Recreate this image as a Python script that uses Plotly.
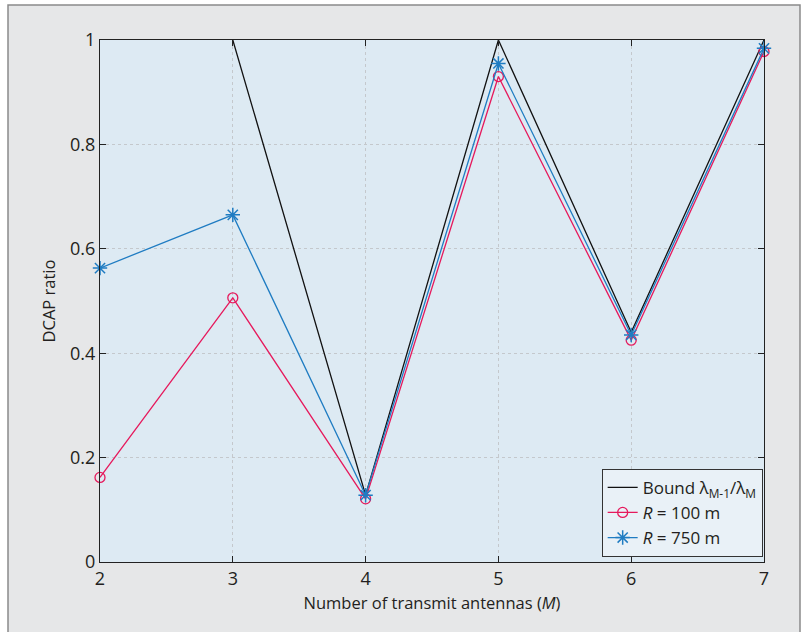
import plotly.graph_objects as go

# Data: DCAP ratio versus number of transmit antennas
antennas = [2, 3, 4, 5, 6, 7]
bound_ratio = [None, 1.0, 0.128, 1.0, 0.44, 1.0]
ratio_r100 = [0.162, 0.506, 0.121, 0.930, 0.425, 0.978]
ratio_r750 = [0.563, 0.665, 0.128, 0.955, 0.435, 0.984]

x_ticks = [2, 3, 4, 5, 6, 7]
y_ticks = [0, 0.2, 0.4, 0.6, 0.8, 1.0]
y_tick_text = ["0", "0.2", "0.4", "0.6", "0.8", "1"]

FONT = "Open Sans"
TXT = "#231f20"
RED = "#e6195c"
BLUE = "#1f7cc2"

W, H = 808, 632
ML, MR, MT, MB = 100, 44, 40, 70
pw, ph = W - ML - MR, H - MT - MB


def px_x(p):
    return (p - ML) / pw


def px_y(p):
    return (H - MB - p) / ph


fig = go.Figure()

fig.add_trace(go.Scatter(
    x=antennas, y=bound_ratio, mode="lines",
    line=dict(color="#111111", width=1.3),
    name="Bound λ<sub>M-1</sub>/λ<sub>M</sub>",
    connectgaps=False,
))
fig.add_trace(go.Scatter(
    x=antennas, y=ratio_r100, mode="lines+markers",
    line=dict(color=RED, width=1.3),
    marker=dict(symbol="circle-open", size=10, color=RED, line=dict(width=1.3)),
    name="<i>R</i> = 100 m",
    cliponaxis=False,
))
fig.add_trace(go.Scatter(
    x=antennas, y=ratio_r750, mode="lines+markers",
    line=dict(color=BLUE, width=1.3),
    marker=dict(symbol="asterisk-open", size=12, color=BLUE, line=dict(width=1.5, color=BLUE)),
    name="<i>R</i> = 750 m",
    cliponaxis=False,
))

shapes = [
    # outer grey panel
    dict(type="rect", xref="paper", yref="paper", layer="below",
         x0=px_x(8), x1=px_x(800), y0=px_y(645), y1=px_y(5),
         fillcolor="#e6e7e8", line=dict(color="#8a8a8a", width=1.5)),
    # plot area
    dict(type="rect", xref="paper", yref="paper", layer="below",
         x0=0, x1=1, y0=0, y1=1,
         fillcolor="#ddeaf3", line=dict(width=0)),
]

fig.update_layout(
    width=W, height=H,
    margin=dict(l=ML, r=MR, t=MT, b=MB),
    paper_bgcolor="white",
    plot_bgcolor="rgba(0,0,0,0)",
    shapes=shapes,
    font=dict(family=FONT, size=16, color=TXT),
    showlegend=True,
    legend=dict(
        x=0.998, y=0.01, xanchor="right", yanchor="bottom",
        bgcolor="#e9f1f7", bordercolor="#333333", borderwidth=1,
        font=dict(family=FONT, size=17, color=TXT),
        tracegroupgap=0, itemwidth=30,
    ),
)

fig.update_xaxes(
    range=[2, 7], tickvals=x_ticks, ticktext=[str(v) for v in x_ticks],
    showline=True, linecolor="#222222", linewidth=1.2, mirror="ticks",
    ticks="inside", ticklen=6, tickcolor="#222222",
    showgrid=True, gridcolor="#c4c8cc", griddash="dot", gridwidth=1,
    zeroline=False,
    tickfont=dict(size=18),
    title=dict(text="Number of transmit antennas (<i>M</i>)", font=dict(size=16.5), standoff=8),
)
fig.update_yaxes(
    range=[0, 1], tickvals=y_ticks, ticktext=y_tick_text,
    showline=True, linecolor="#222222", linewidth=1.2, mirror="ticks",
    ticks="inside", ticklen=6, tickcolor="#222222",
    showgrid=True, gridcolor="#c4c8cc", griddash="dot", gridwidth=1,
    zeroline=False,
    tickfont=dict(size=18),
    title=dict(text="DCAP ratio", font=dict(size=16.5), standoff=10),
)

fig.write_html("out.html")
